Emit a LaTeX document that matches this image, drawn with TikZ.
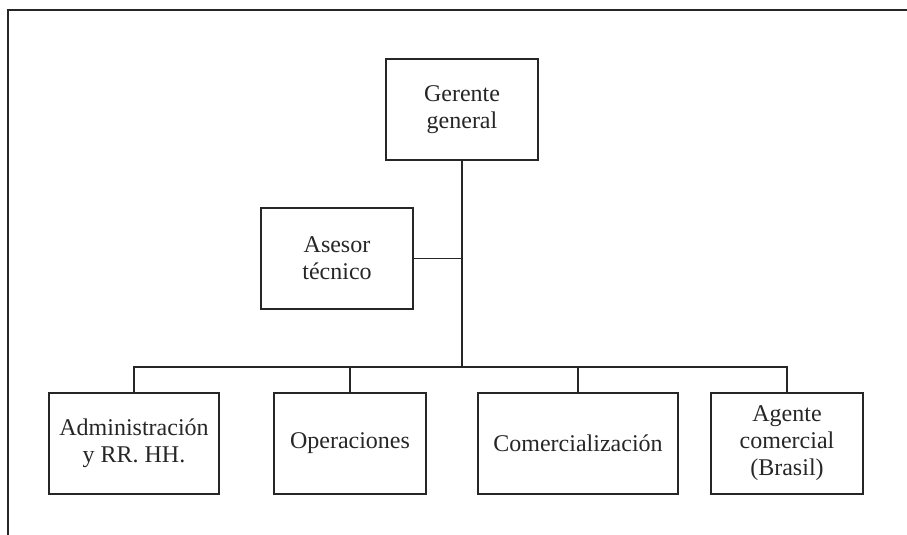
\documentclass[tikz,border=0pt]{standalone}
\usepackage{fontspec}
\setmainfont{Liberation Serif}
\begin{document}
\begin{tikzpicture}[x=0.75pt,y=-0.75pt,
  ln/.style={line width=0.8pt,draw=black!85},
  box/.style={ln,rectangle,minimum height=75.75pt,inner sep=1pt,align=center,
    font=\fontsize{18}{20.25}\selectfont,text=black!85}]
\useasboundingbox (0,0) rectangle (907,535);
\draw[ln] (907,10) -- (8,10) -- (8,535);
\node[box,minimum width=114pt] (gg) at (462,109.5) {Gerente\\general};
\node[box,minimum width=114pt] (as) at (337,258.5) {Asesor\\técnico};
\node[box,minimum width=127.5pt] (adm) at (134,443.5) {Administración\\y RR. HH.};
\node[box,minimum width=114pt] (op) at (350,443.5) {Operaciones};
\node[box,minimum width=150pt] (co) at (578,443.5) {Comercialización};
\node[box,minimum width=114pt] (ag) at (787,443.5) {Agente\\comercial\\(Brasil)};
\coordinate (j) at (462,367);
\draw[ln] (gg.south) -- (j);
\draw[ln] (as.east) -- (as.east -| gg.south);
\draw[ln] (adm.north) -- (adm.north |- j) -- (ag.north |- j) -- (ag.north);
\draw[ln] (op.north) -- (op.north |- j);
\draw[ln] (co.north) -- (co.north |- j);
\end{tikzpicture}
\end{document}
